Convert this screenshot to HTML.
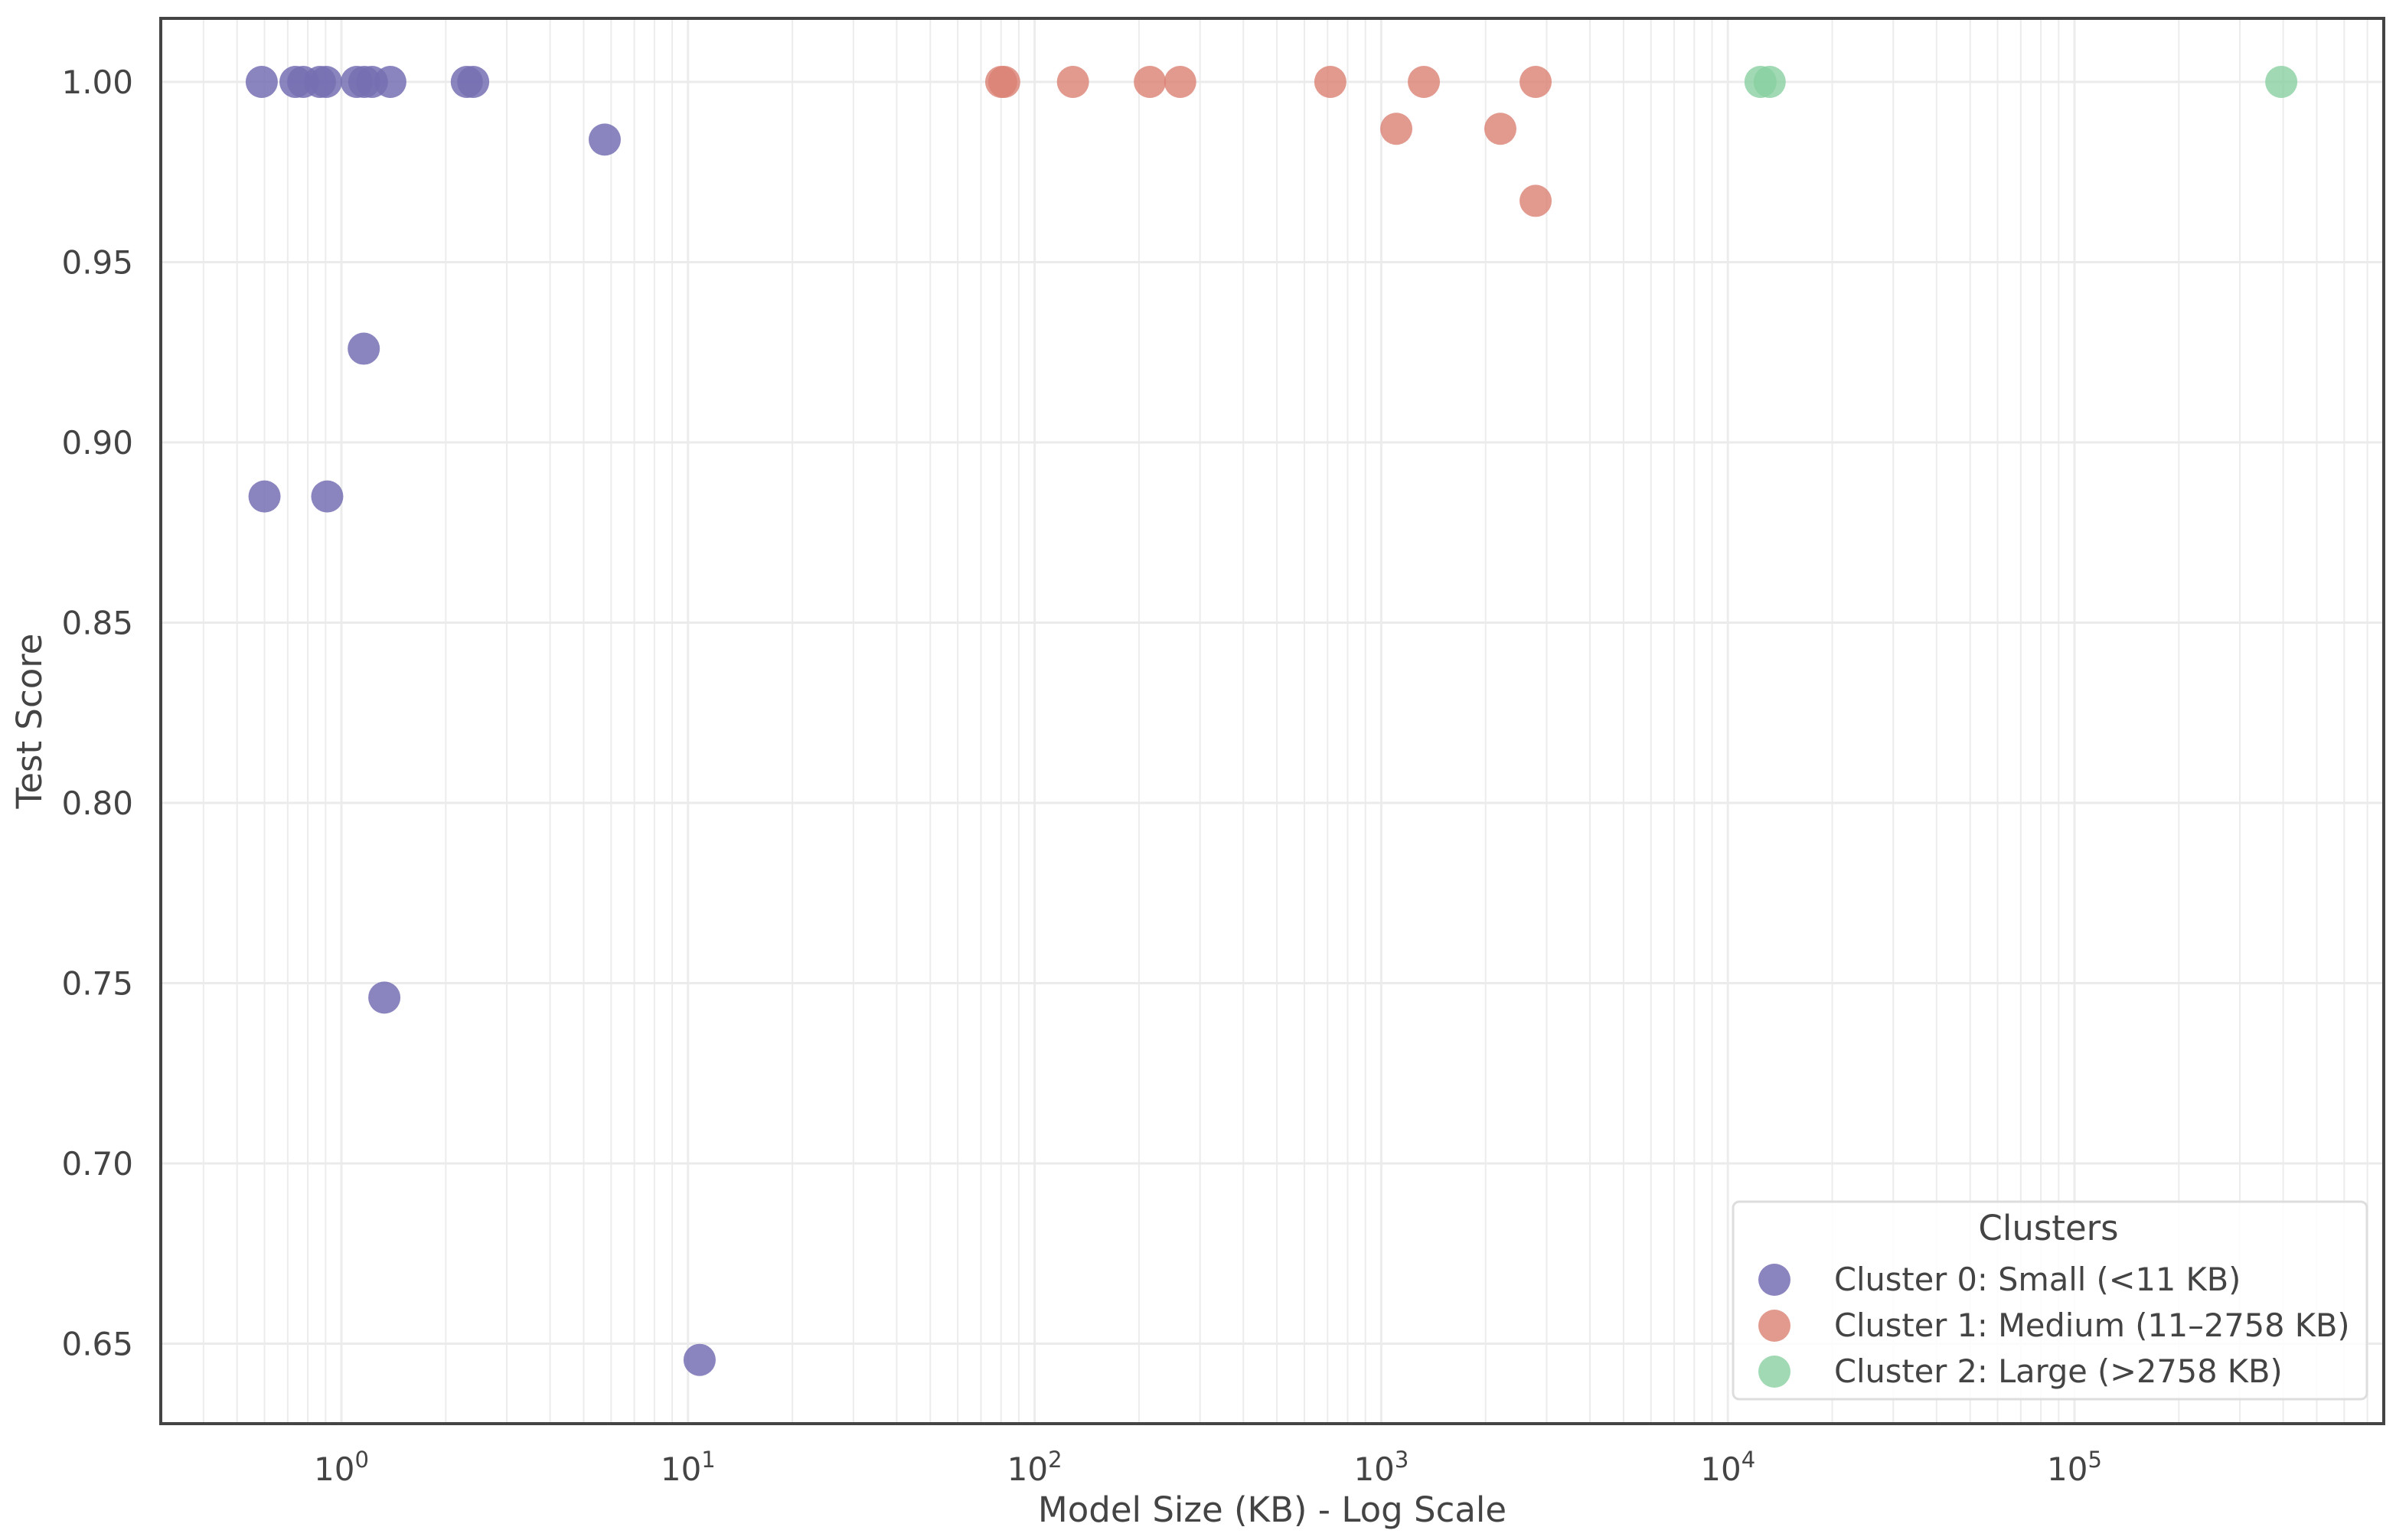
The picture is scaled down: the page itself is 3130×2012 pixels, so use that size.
<!DOCTYPE html>
<html><head><meta charset="utf-8"><style>
html,body{margin:0;padding:0;background:#fff;}
svg{display:block;font-family:"DejaVu Sans","Liberation Sans",sans-serif;}
</style></head><body>
<svg id="chart" width="3130" height="2012" viewBox="0 0 3130 2012">
<g id="grid"></g>
<g id="points"></g>
<rect x="210" y="24" width="2904" height="1836" fill="none" stroke="#444" stroke-width="4"/>
<g id="ticks"></g>
<text x="1662" y="1988" text-anchor="middle" font-size="45" fill="#444">Model Size (KB) - Log Scale</text>
<text transform="translate(54,942) rotate(-90)" text-anchor="middle" font-size="45" fill="#444">Test Score</text>
<g>
<rect x="2264" y="1570" width="828" height="258" rx="8" fill="#fff" fill-opacity="0.85" stroke="#ddd" stroke-width="3"/>
<text x="2676" y="1620" text-anchor="middle" font-size="45" fill="#444">Clusters</text>
<circle cx="2318" cy="1672" r="21" fill="rgb(117,112,179)" fill-opacity="0.85"/>
<text x="2396" y="1686" font-size="41.5" fill="#444">Cluster 0: Small (&lt;11 KB)</text>
<circle cx="2318" cy="1732" r="21" fill="rgb(219,129,115)" fill-opacity="0.8"/>
<text x="2396" y="1746" font-size="41.5" fill="#444">Cluster 1: Medium (11–2758 KB)</text>
<circle cx="2318" cy="1792" r="21" fill="rgb(136,208,160)" fill-opacity="0.8"/>
<text x="2396" y="1806" font-size="41.5" fill="#444">Cluster 2: Large (&gt;2758 KB)</text>
</g>
</svg>
<script>
const c0Sizes=[0.589,0.737,0.776,0.867,0.903,1.107,1.164,1.225,1.384,2.30,2.40,5.75,1.16,0.6,0.91,1.33,10.8];
const c0Scores=[1,1,1,1,1,1,1,1,1,1,1,0.984,0.926,0.885,0.885,0.746,0.6455];
const c1Sizes=[80.1,81.7,129,215,263,713,1327,2788,1105,2206,2788];
const c1Scores=[1,1,1,1,1,1,1,1,0.987,0.987,0.967];
const c2Sizes=[12420,13200,395000];
const c2Scores=[1,1,1];
const yTicks=[0.65,0.70,0.75,0.80,0.85,0.90,0.95,1.00];
const xDecades=[0,1,2,3,4,5];

const NS="http://www.w3.org/2000/svg";
function xs(v){return 446+452.8*Math.log10(v);}
function ys(v){return 107+(1-v)/0.05*235.5;}
function mk(tag,attrs,parent){const e=document.createElementNS(NS,tag);for(const k in attrs)e.setAttribute(k,attrs[k]);parent.appendChild(e);return e;}
const grid=document.getElementById('grid'),pts=document.getElementById('points'),ticks=document.getElementById('ticks');
for(let d=-1;d<=5;d++){for(let m=1;m<=9;m++){const v=m*Math.pow(10,d);const x=xs(v);if(x<212||x>3112)continue;
const l=mk('line',{x1:x,x2:x,y1:26,y2:1858,stroke:'#ececec','stroke-width':m===1?3:2},grid);

}}
yTicks.forEach(t=>{const y=ys(t);
const l=mk('line',{x1:212,x2:3112,y1:y,y2:y,stroke:'#ebebeb','stroke-width':3},grid);


const tx=mk('text',{x:174,y:y+15,'text-anchor':'end','font-size':42,fill:'#444'},ticks);


tx.textContent=t.toFixed(2);});
xDecades.forEach(d=>{const x=xs(Math.pow(10,d));
const tx=mk('text',{x:x,y:1934,'text-anchor':'middle','font-size':42,fill:'#444'},ticks);


tx.textContent='10';
const s=mk('tspan',{dy:-17,'font-size':29},tx);s.textContent=String(d);});
function series(sz,sc,col,op,name){sz.forEach((v,i)=>{
const c=mk('circle',{cx:xs(v),cy:ys(sc[i]),r:21,fill:col,'fill-opacity':op},pts);

});}
series(c0Sizes,c0Scores,'rgb(117,112,179)',0.85,'cluster-0-point');
series(c1Sizes,c1Scores,'rgb(219,129,115)',0.8,'cluster-1-point');
series(c2Sizes,c2Scores,'rgb(136,208,160)',0.8,'cluster-2-point');
</script>
</body></html>
